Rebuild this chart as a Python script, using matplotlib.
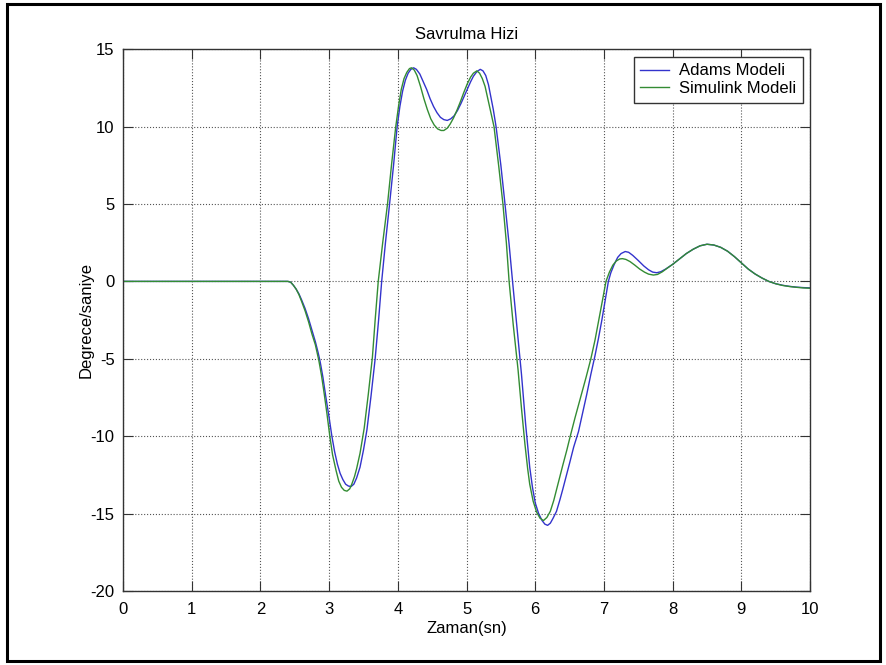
import matplotlib
matplotlib.use("Agg")
from matplotlib import pyplot as plt
from matplotlib.patches import Rectangle

plt.rcParams['font.family'] = ['Liberation Sans', 'DejaVu Sans']
plt.rcParams['axes.unicode_minus'] = False

# Adams Modeli
t_adams = [0.0, 2.40, 2.44, 2.48, 2.52, 2.56, 2.60, 2.65, 2.70, 2.75, 2.80, 2.84,
           2.87, 2.91, 2.95, 3.00, 3.04, 3.08, 3.12, 3.16, 3.20, 3.24, 3.28,
           3.32, 3.36, 3.40, 3.45, 3.50, 3.55, 3.61, 3.67, 3.72, 3.765, 3.82,
           3.88, 3.94, 3.99, 4.03, 4.07, 4.11, 4.15, 4.19, 4.23, 4.27, 4.32,
           4.37, 4.42, 4.47, 4.52, 4.57, 4.62, 4.67, 4.72, 4.77, 4.82, 4.87,
           4.92, 4.97, 5.02, 5.06, 5.10, 5.15, 5.20, 5.24, 5.28, 5.32, 5.35,
           5.39, 5.43, 5.50, 5.56, 5.62, 5.67, 5.73, 5.80, 5.86, 5.92, 5.96,
           6.00, 6.05, 6.10, 6.14, 6.18, 6.22, 6.26, 6.31, 6.36, 6.40, 6.45,
           6.50, 6.56, 6.63, 6.69, 6.75, 6.81, 6.87, 6.92, 6.97, 7.02, 7.065,
           7.10, 7.15, 7.20, 7.25, 7.31, 7.36, 7.42, 7.50, 7.58, 7.65, 7.71,
           7.77, 7.83, 7.90, 8.00, 8.10, 8.20, 8.30, 8.40, 8.50, 8.60, 8.70,
           8.80, 8.90, 9.00, 9.10, 9.20, 9.30, 9.40, 9.50, 9.60, 9.70, 9.80,
           9.90, 10.0]
y_adams = [0.0, 0.0, -0.05, -0.25, -0.5, -0.8, -1.2, -1.75, -2.4, -3.15, -3.9, -4.6,
           -5.2, -6.2, -7.4, -8.8, -10.0, -11.0, -11.8, -12.4, -12.8, -13.1, -13.22,
           -13.25, -13.1, -12.7, -12.0, -10.9, -9.6, -7.4, -5.0, -2.5, 0.0, 2.5,
           5.0, 7.6, 10.0, 11.3, 12.3, 13.0, 13.45, 13.7, 13.8, 13.7, 13.4,
           12.9, 12.4, 11.8, 11.3, 10.9, 10.6, 10.45, 10.4, 10.5, 10.7, 11.05,
           11.5, 12.0, 12.5, 12.9, 13.25, 13.55, 13.7, 13.6, 13.3, 12.7, 12.0,
           11.1, 10.0, 7.5, 5.0, 2.4, 0.0, -2.8, -6.0, -9.2, -12.0, -13.3,
           -14.3, -15.0, -15.45, -15.68, -15.76, -15.62, -15.3, -14.85, -14.1, -13.45, -12.6,
           -11.75, -10.7, -9.7, -8.5, -7.3, -6.0, -4.8, -3.7, -2.5, -1.2, 0.0,
           0.55, 1.1, 1.55, 1.8, 1.93, 1.88, 1.68, 1.35, 1.0, 0.75, 0.6,
           0.56, 0.63, 0.8, 1.1, 1.45, 1.8, 2.08, 2.3, 2.4, 2.35, 2.2,
           1.95, 1.6, 1.2, 0.8, 0.48, 0.22, 0.0, -0.15, -0.25, -0.32, -0.37,
           -0.4, -0.42]

# Simulink Modeli
t_simulink = [0.0, 2.40, 2.44, 2.48, 2.52, 2.56, 2.60, 2.65, 2.70, 2.75, 2.80, 2.85,
              2.89, 2.93, 2.97, 3.01, 3.05, 3.10, 3.14, 3.18, 3.22, 3.26, 3.30,
              3.33, 3.37, 3.40, 3.45, 3.51, 3.57, 3.63, 3.67, 3.715, 3.78, 3.85,
              3.91, 3.97, 4.01, 4.05, 4.09, 4.13, 4.17, 4.20, 4.24, 4.28, 4.33,
              4.38, 4.43, 4.48, 4.53, 4.58, 4.63, 4.67, 4.72, 4.76, 4.81, 4.86,
              4.91, 4.96, 5.01, 5.06, 5.10, 5.15, 5.19, 5.23, 5.27, 5.30, 5.35,
              5.40, 5.47, 5.53, 5.58, 5.62, 5.68, 5.75, 5.80, 5.85, 5.89, 5.92,
              5.97, 6.02, 6.07, 6.12, 6.17, 6.22, 6.27, 6.33, 6.40, 6.46, 6.51,
              6.58, 6.66, 6.74, 6.81, 6.87, 6.93, 6.98, 7.03, 7.08, 7.13, 7.18,
              7.23, 7.27, 7.32, 7.38, 7.45, 7.52, 7.59, 7.65, 7.72, 7.78, 7.85,
              7.92, 8.00, 8.10, 8.20, 8.30, 8.40, 8.50, 8.60, 8.70, 8.80, 8.90,
              9.00, 9.10, 9.20, 9.30, 9.40, 9.50, 9.60, 9.70, 9.80, 9.90, 10.0]
y_simulink = [0.0, 0.0, -0.05, -0.25, -0.5, -0.85, -1.3, -1.9, -2.6, -3.4, -4.1, -5.1,
              -6.1, -7.3, -8.6, -10.0, -11.2, -12.2, -12.9, -13.3, -13.5, -13.55, -13.4,
              -13.1, -12.6, -12.1, -11.1, -9.5, -7.3, -4.9, -2.5, 0.0, 2.5, 5.0,
              7.6, 10.0, 11.3, 12.4, 13.1, 13.5, 13.75, 13.8, 13.65, 13.3, 12.6,
              11.8, 11.1, 10.5, 10.1, 9.85, 9.75, 9.75, 9.9, 10.15, 10.55, 11.05,
              11.6, 12.2, 12.75, 13.2, 13.45, 13.6, 13.45, 13.1, 12.6, 12.0, 11.0,
              10.0, 7.4, 5.0, 2.5, 0.0, -2.8, -5.7, -8.2, -10.5, -12.1, -13.1,
              -14.2, -14.9, -15.3, -15.45, -15.25, -14.85, -14.15, -13.1, -11.9, -10.9, -10.0,
              -8.8, -7.5, -6.2, -5.0, -3.8, -2.4, -1.2, 0.0, 0.6, 1.05, 1.32,
              1.45, 1.47, 1.42, 1.28, 1.05, 0.8, 0.6, 0.47, 0.41, 0.45, 0.62,
              0.85, 1.1, 1.45, 1.8, 2.08, 2.3, 2.4, 2.35, 2.2, 1.95, 1.6,
              1.2, 0.8, 0.48, 0.22, 0.0, -0.15, -0.26, -0.33, -0.38, -0.42, -0.44]

x_ticks = list(range(0, 11))
y_ticks = [-20, -15, -10, -5, 0, 5, 10, 15]

fig = plt.figure(figsize=(8.87, 6.65), dpi=100)
ax = fig.add_axes([0.1387, 0.1113, 0.7745, 0.8147])

ax.plot(t_adams, y_adams, color=(0.2, 0.2, 0.8), lw=1.0, label='Adams Modeli')
ax.plot(t_simulink, y_simulink, color=(0.2, 0.55, 0.2), lw=1.0, label='Simulink Modeli')

ax.set_xlim(0, 10)
ax.set_ylim(-20, 15)
ax.set_xticks(x_ticks)
ax.set_yticks(y_ticks)
ax.grid(True, linestyle=':', color='#555555', linewidth=0.8)
ax.tick_params(direction='in', length=7, top=True, right=True, labelsize=12,
               color='#333333')
ax.tick_params(axis='x', pad=8)
ax.tick_params(axis='y', pad=6)
for s in ax.spines.values():
    s.set_color('#333333')
    s.set_linewidth(1.0)

ax.set_title('Savrulma Hizi', fontsize=12, pad=7)
ax.set_xlabel('Zaman(sn)', fontsize=12, labelpad=3)
ax.set_ylabel('Degrece/saniye', fontsize=12, labelpad=-2)

leg = ax.legend(loc='upper right', fontsize=12, fancybox=False, framealpha=1,
                edgecolor='#333333', handlelength=1.7, handletextpad=0.6,
                borderpad=0.4, labelspacing=0.15, borderaxespad=0.45)
leg.get_frame().set_linewidth(1.0)

# black frame round the whole figure
fig.patches.append(Rectangle((0.008, 0.006), 0.984, 0.988, transform=fig.transFigure,
                             fill=False, edgecolor='black', linewidth=2.2))

fig.savefig('out.png', dpi=100)
